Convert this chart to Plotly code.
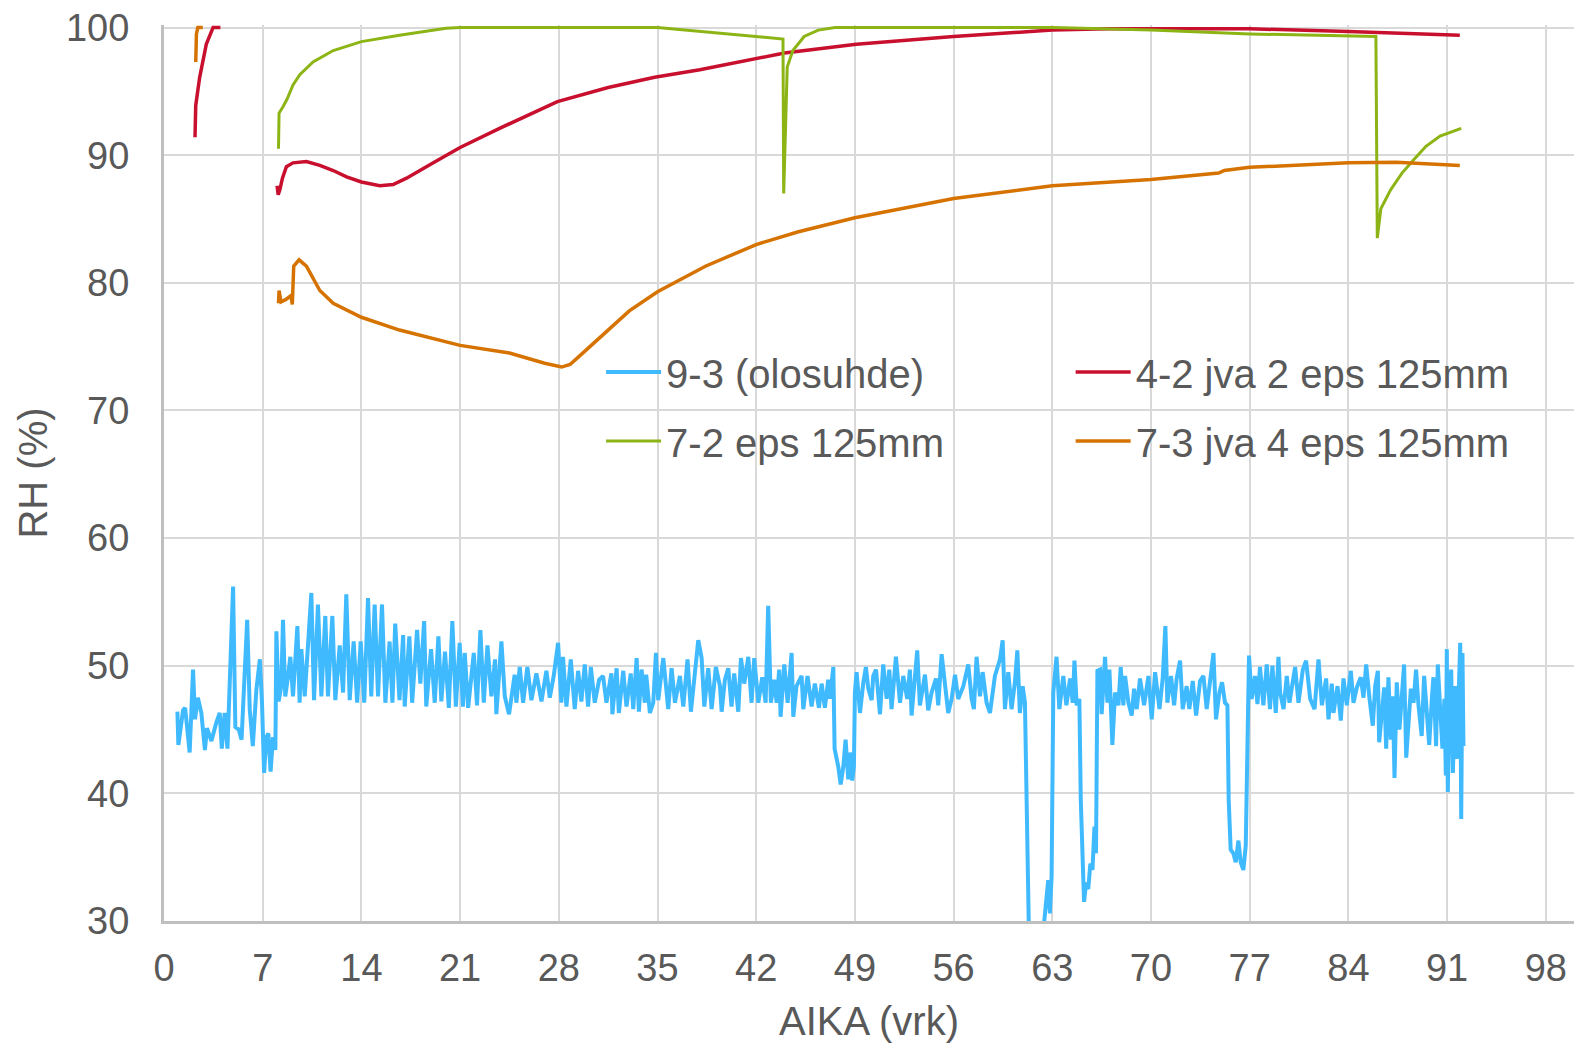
import plotly.graph_objects as go

# ---------------- data ----------------
x_ticks = [0, 7, 14, 21, 28, 35, 42, 49, 56, 63, 70, 77, 84, 91, 98]
y_ticks = [30, 40, 50, 60, 70, 80, 90, 100]

names = ["9-3 (olosuhde)", "4-2 jva 2 eps 125mm", "7-2 eps 125mm", "7-3 jva 4 eps 125mm"]

blue_x = [0.95, 1.02, 1.35, 1.5, 1.82, 2.06, 2.2, 2.4, 2.65, 2.9, 3.05, 3.36, 3.7, 3.95, 4.1, 4.3, 4.5, 4.7, 4.9, 5.06,
          5.3, 5.5, 5.7, 5.9, 6.08, 6.3, 6.55, 6.8, 6.95, 7.1, 7.26, 7.4, 7.56, 7.73, 7.9, 7.97, 8.13, 8.32, 8.44, 8.6,
          8.8, 8.96, 9.15, 9.46, 9.62, 9.74, 9.98, 10.1, 10.45, 10.64, 10.92, 11.16, 11.44, 11.63, 11.94, 12.15, 12.46,
          12.7, 12.93, 13.17, 13.45, 13.7, 13.95, 14.2, 14.47, 14.7, 14.94, 15.18, 15.46, 15.7, 16.0,
          16.2, 16.4, 16.7, 16.96, 17.07, 17.4, 17.6, 17.95, 18.18, 18.45, 18.6, 18.94, 19.2, 19.46, 19.67, 19.93, 20.2,
          20.45, 20.7, 20.97, 21.2, 21.33, 21.57, 21.97, 22.2, 22.44, 22.68, 22.94, 23.22, 23.48, 23.57, 23.93, 24.17,
          24.47, 24.87, 24.99, 25.23, 25.47, 25.77, 26.06, 26.41, 26.77, 27.12, 27.36, 27.64, 27.95, 28.18, 28.3, 28.54,
          28.85, 29.13, 29.37, 29.6, 29.84, 30.08, 30.27, 30.55, 30.86, 31.14, 31.38, 31.73, 31.8,
          32.1, 32.26, 32.57, 32.8, 33.1, 33.28, 33.52, 33.68, 33.87, 34.1, 34.2, 34.46, 34.7, 34.89, 35.05, 35.41, 35.76,
          36.0, 36.24, 36.59, 36.83, 37.13, 37.37, 37.6, 37.89, 38.13, 38.32, 38.6, 38.84, 39.14, 39.43, 39.55, 39.78,
          40.02, 40.25, 40.44, 40.73, 40.92, 41.15, 41.44, 41.67, 41.86, 42.15, 42.43, 42.67, 42.85, 43.04, 43.28, 43.45,
          43.63, 43.73, 43.99, 44.23, 44.51, 44.63, 44.86, 45.22, 45.34, 45.64, 45.93, 46.16, 46.45, 46.64, 46.87, 47.11,
          47.23, 47.47, 47.56, 47.82, 47.99, 48.18, 48.34, 48.53, 48.65, 48.81, 48.93, 49.0, 49.12, 49.36, 49.6, 49.78,
          49.95, 50.19, 50.3, 50.5, 50.78, 51.01, 51.25, 51.44, 51.6, 51.91, 52.2, 52.43, 52.71, 52.9, 53.02, 53.26,
          53.42, 53.61, 53.97, 54.2, 54.44, 54.75, 54.91, 55.15, 55.46, 55.62, 55.86, 56.1, 56.33, 56.69, 57.04, 57.28,
          57.44, 57.63, 57.87, 58.06, 58.34, 58.58, 58.93, 59.29, 59.48, 59.64, 59.88, 60.11, 60.35, 60.52, 60.7, 60.9,
          61.06, 61.18, 61.35, 62.3, 62.4, 62.55, 62.71, 62.83, 62.95, 63.07, 63.3, 63.5, 63.78, 64.0,
          64.26, 64.45, 64.57, 64.73, 64.92, 65.02, 65.13, 65.25, 65.4, 65.55, 65.7, 65.85, 65.99, 66.1, 66.2, 66.39,
          66.5, 66.74, 66.91, 67.05, 67.26, 67.45, 67.69, 67.85, 68.04, 68.16, 68.4, 68.63, 68.8, 68.99, 69.22, 69.51,
          69.82, 70.05, 70.29, 70.6, 70.83, 71.02, 71.16, 71.42, 71.64, 71.82, 72.06, 72.25, 72.53, 72.72, 72.96, 73.2,
          73.48, 73.72, 73.95, 74.19, 74.43, 74.61, 74.85, 75.04, 75.25, 75.42, 75.51, 75.65, 75.84, 76.01, 76.2, 76.36,
          76.55, 76.72, 76.84, 76.95, 77.14, 77.38, 77.55, 77.73, 77.97, 78.21, 78.44, 78.61, 78.85, 79.04,
          79.16, 79.4, 79.63, 79.82, 80.22, 80.46, 80.77, 81.0, 81.29, 81.6, 81.88, 82.12, 82.42, 82.59, 82.82, 82.94,
          83.23, 83.46, 83.65, 83.89, 84.17, 84.36, 84.6, 84.88, 85.07, 85.26, 85.5, 85.73, 85.9, 86.09, 86.18, 86.37,
          86.54, 86.68, 86.84, 87.01, 87.15, 87.27, 87.43, 87.62, 87.79, 87.95, 88.1, 88.26, 88.43, 88.62, 88.8, 88.97,
          89.2, 89.37, 89.56, 89.73, 89.92, 90.03, 90.22, 90.34, 90.51, 90.67, 90.81, 90.91, 90.98, 91.05, 91.17, 91.29,
          91.41, 91.57, 91.69, 91.81, 91.93, 92.0, 92.09, 92.16]
blue_y = [46.4, 43.8, 46.5, 46.7, 43.2, 49.7, 45.8, 47.5, 46.3, 43.4, 45.1, 44.1, 45.5, 46.3, 43.5, 46.3, 43.5, 48.9, 56.2, 45.2,
          45.0, 44.2, 49.7, 53.6, 46.6, 43.7, 48.1, 50.5, 47.1, 41.6, 44.4, 44.7, 41.7, 44.4, 43.4, 52.7, 47.2, 48.4, 53.6, 47.6,
          49.2, 50.7, 47.6, 53.1, 47.1, 51.3, 47.6, 49.9, 55.7, 47.3, 54.8, 47.6, 53.9, 47.6, 53.9, 47.3, 51.6,
          47.9, 55.6, 47.3, 51.9, 47.1, 51.9, 47.1, 55.3, 47.6, 54.8, 47.6, 54.8, 47.1, 51.9,
          47.1, 53.3, 47.3, 52.4, 46.8, 52.3, 47.1, 52.8, 48.6, 53.5, 46.8, 51.3, 47.1, 52.3, 47.2, 51.1, 46.7,
          53.5, 46.8, 51.8, 46.8, 51.0, 46.7, 51.0, 46.9, 52.8, 47.1, 51.6, 47.6, 50.5, 46.2, 51.9, 47.6,
          46.2, 49.3, 47.1, 49.9, 47.1, 49.9, 47.3, 49.4, 47.2, 49.6, 47.5, 49.2, 51.8, 47.1, 50.7, 46.8,
          50.5, 46.6, 49.6, 47.2, 50.1, 46.8, 49.9, 47.1, 48.9, 49.2, 47.1, 49.4, 46.2,
          49.8, 46.3, 49.6, 46.8, 49.4, 46.6, 50.6, 46.4, 49.7, 47.1, 49.3, 46.3, 47.1, 51.0, 47.3, 50.6, 46.6,
          49.8, 47.1, 49.2, 46.8, 50.5, 46.4, 48.8, 52.0, 50.6, 46.8, 49.8, 46.6, 49.9, 48.4, 46.4, 48.9,
          49.8, 46.8, 49.4, 46.4, 50.6, 48.6, 50.7, 47.1, 50.6, 47.1, 49.1, 47.1, 54.7, 47.1, 48.9, 47.1,
          49.7, 46.0, 50.1, 47.1, 51.0, 46.0, 48.4, 49.2, 46.6, 49.2, 46.8, 48.6, 46.7, 48.6, 46.7, 48.9,
          47.4, 49.9, 43.5, 42.1, 40.7, 42.1, 44.2, 41.1, 43.2, 41.0, 42.1, 47.9, 49.5, 46.3, 48.7, 49.9,
          48.2, 47.3, 49.2, 49.7, 46.2, 50.1, 47.4, 49.7, 46.6, 50.7, 47.1, 49.2, 47.4, 49.7, 46.1, 49.7,
          51.2, 46.9, 49.3, 46.5, 47.9, 49.0, 46.9, 50.9, 47.6, 46.3, 47.4, 49.3, 47.4, 48.4, 50.1, 47.4,
          46.6, 50.7, 47.6, 49.5, 47.1, 46.3, 49.2, 50.5, 52.0, 46.6, 49.5, 46.6, 48.7, 51.2, 46.3, 48.4,
          47.1, 36.9, 28.5, 28.5, 29.8, 31.7, 33.2, 30.6, 33.5, 47.9, 50.7, 46.6, 49.2, 46.9,
          49.0, 47.1, 50.4, 46.9, 47.4, 39.5, 34.5, 31.5, 33.0, 32.5, 34.5, 34.0, 37.4, 35.3, 49.6, 49.7,
          46.2, 50.7, 47.1, 49.7, 43.8, 47.9, 46.9, 49.9, 46.9, 49.2, 47.1, 46.1, 48.2, 46.6, 49.0, 46.9,
          49.2, 45.8, 49.5, 46.6, 49.0, 53.1, 47.1, 49.2, 46.9, 49.0, 50.4, 46.6, 48.4, 46.6, 48.8, 46.1,
          48.8, 49.2, 46.6, 48.7, 51.0, 45.8, 47.9, 48.7, 47.1, 46.9, 39.5, 35.6, 35.3, 34.6, 36.3, 34.6,
          34.0, 35.9, 43.5, 50.8, 47.4, 49.2, 47.0, 49.9, 46.9, 50.1, 46.6, 50.0, 46.3, 50.7,
          47.9, 46.6, 49.2, 47.1, 49.9, 47.1, 49.7, 50.4, 47.4, 46.6, 50.5, 46.9, 49.0, 45.8, 48.6, 46.3,
          48.4, 45.7, 49.0, 46.9, 49.6, 47.1, 48.3, 49.1, 47.5, 50.1, 47.4, 45.3, 48.4, 49.6, 44.0, 46.6,
          48.3, 43.5, 49.1, 44.2, 47.6, 41.2, 48.7, 45.0, 47.4, 50.1, 42.8, 46.1, 48.2, 47.1, 49.7, 46.9,
          44.5, 49.2, 46.6, 43.8, 47.4, 49.1, 43.7, 50.1, 46.6, 43.5, 47.4, 41.4, 51.3, 40.1, 47.4, 49.7,
          41.6, 48.4, 42.7, 47.4, 51.8, 38.0, 51.0, 43.7]

red_x = [2.2, 2.25, 2.53, 3.0, 3.48, 4.0, None,
         8.02, 8.1, 8.22, 8.4, 8.68, 9.15, 10.1, 11.05, 12.0, 12.95, 14.0, 15.3, 16.25, 17.2, 19.1, 21.0, 23.8,
         27.9, 31.5, 34.8, 38.0, 42.7, 44.0, 49.1, 56.0, 63.0, 67.0, 70.0, 77.0, 84.0, 91.9]
red_y = [91.4, 93.9, 96.1, 98.7, 100.0, 100.0, None,
         87.6, 86.9, 87.3, 88.2, 89.1, 89.4, 89.5, 89.2, 88.8, 88.3, 87.9, 87.6, 87.7, 88.2, 89.4, 90.6, 92.1,
         94.2, 95.3, 96.1, 96.7, 97.7, 98.0, 98.7, 99.3, 99.8, 99.9, 99.9, 99.9, 99.7, 99.4]

green_x = [8.12, 8.16, 8.44, 8.73, 9.15, 9.63, 10.57, 12.0, 14.0, 16.7, 20.0, 21.0, 35.0, 38.0, 43.9,
           43.95, 44.2, 44.6, 45.4, 46.4, 47.6, 63.0, 70.0, 77.0, 85.95,
           86.05, 86.3, 87.0, 87.8, 88.6, 89.5, 90.5, 92.0]
green_y = [90.5, 93.3, 93.8, 94.4, 95.5, 96.3, 97.3, 98.2, 98.9, 99.4, 99.95, 100.0, 100.0, 99.7, 99.1,
           87.0, 96.9, 98.2, 99.3, 99.8, 100.0, 100.0, 99.8, 99.5, 99.3,
           83.5, 85.8, 87.3, 88.6, 89.6, 90.7, 91.5, 92.1]

orange_x = [2.25, 2.3, 2.4, 2.75, None,
            8.12, 8.16, 8.3, 8.65, 9.0, 9.1, 9.2, 9.58, 10.1, 11.05, 12.0, 14.0, 16.7, 21.0, 24.5, 27.0, 28.2,
            28.8, 29.5, 30.5, 31.5, 33.0, 35.0, 38.4, 42.0, 45.0, 49.0, 56.0, 63.0, 70.0, 74.8, 75.2, 77.0, 84.0,
            87.4, 91.9]
orange_y = [97.3, 99.5, 100.0, 100.0, None,
            78.4, 79.4, 78.5, 78.7, 79.0, 78.3, 81.3, 81.8, 81.3, 79.4, 78.4, 77.3, 76.3, 75.1, 74.5, 73.7, 73.4,
            73.6, 74.3, 75.3, 76.3, 77.8, 79.3, 81.3, 83.0, 84.0, 85.1, 86.6, 87.6, 88.1, 88.6, 88.8, 89.05, 89.4,
            89.45, 89.2]

# ---------------- figure ----------------
FONT = "Arial, Liberation Sans, sans-serif"
TXT = "#595959"
colors = ["#40BAFF", "#C8102E", "#8CB414", "#D67300"]
widths = [4, 3.5, 3, 3.5]
series = [(blue_x, blue_y), (red_x, red_y), (green_x, green_y), (orange_x, orange_y)]
legend_of = ["legend", "legend2", "legend", "legend2"]

fig = go.Figure()
for i, ((xs, ys), name) in enumerate(zip(series, names)):
    fig.add_trace(go.Scatter(
        x=xs, y=ys, name=name, mode="lines",
        line=dict(color=colors[i], width=widths[i]),
        legend=legend_of[i], legendgroup=name,
        connectgaps=False,
    ))

legend_common = dict(
    font=dict(family=FONT, size=40, color=TXT),
    bgcolor="rgba(0,0,0,0)", borderwidth=0,
    xanchor="left", yanchor="top", itemwidth=55,
    tracegroupgap=14, orientation="v",
)

fig.update_layout(
    width=1581, height=1044,
    paper_bgcolor="white", plot_bgcolor="white",
    margin=dict(l=164, r=7, t=25, b=123, autoexpand=False),
    font=dict(family=FONT, size=38, color=TXT),
    legend=dict(x=0.310, y=0.649, **legend_common),
    legend2=dict(x=0.643, y=0.649, **legend_common),
    xaxis=dict(
        range=[0, 100], tickmode="array", tickvals=x_ticks,
        showgrid=True, gridcolor="#D9D9D9", gridwidth=2,
        showline=True, linecolor="#BFBFBF", linewidth=3,
        zeroline=False, ticks="", ticklabelstandoff=11,
        tickfont=dict(family=FONT, size=38, color=TXT),
        title=dict(text="AIKA (vrk)", font=dict(family=FONT, size=40, color=TXT), standoff=20),
        automargin=False,
    ),
    yaxis=dict(
        range=[30, 100.2], tickmode="array", tickvals=y_ticks,
        showgrid=True, gridcolor="#D9D9D9", gridwidth=2,
        showline=True, linecolor="#BFBFBF", linewidth=3,
        zeroline=False, ticks="", ticklabelstandoff=24,
        tickfont=dict(family=FONT, size=38, color=TXT),
        title=dict(text="RH (%)", font=dict(family=FONT, size=40, color=TXT), standoff=6),
        automargin=False,
    ),
)

fig.write_html("out.html", config={"displayModeBar": False},
               post_script="document.body.style.margin='0';")
